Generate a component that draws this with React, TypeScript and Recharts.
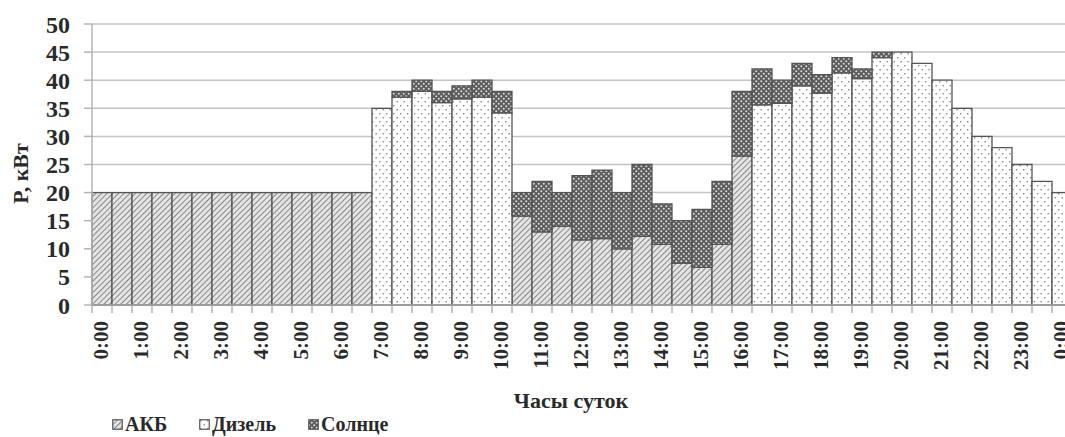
import { Bar, BarChart, CartesianGrid, Label, XAxis, YAxis } from "recharts";

// half-hour slots, 0:00 .. 0:00 next day
const slots = [
  "0:00", "0:30", "1:00", "1:30", "2:00", "2:30", "3:00", "3:30", "4:00", "4:30",
  "5:00", "5:30", "6:00", "6:30", "7:00", "7:30", "8:00", "8:30", "9:00", "9:30",
  "10:00", "10:30", "11:00", "11:30", "12:00", "12:30", "13:00", "13:30", "14:00", "14:30",
  "15:00", "15:30", "16:00", "16:30", "17:00", "17:30", "18:00", "18:30", "19:00", "19:30",
  "20:00", "20:30", "21:00", "21:30", "22:00", "22:30", "23:00", "23:30", "0:00",
];

const akb = [
  20, 20, 20, 20, 20, 20, 20, 20, 20, 20,
  20, 20, 20, 20, 0, 0, 0, 0, 0, 0,
  0, 15.8, 13, 14, 11.6, 11.8, 10, 12.2, 10.8, 7.4,
  6.7, 10.8, 26.5, 0, 0, 0, 0, 0, 0, 0,
  0, 0, 0, 0, 0, 0, 0, 0, 0,
];

const diesel = [
  0, 0, 0, 0, 0, 0, 0, 0, 0, 0,
  0, 0, 0, 0, 35, 37, 38, 36, 36.7, 37,
  34.2, 0, 0, 0, 0, 0, 0, 0, 0, 0,
  0, 0, 0, 35.6, 35.9, 39, 37.7, 41.3, 40.3, 44,
  45, 43, 40, 35, 30, 28, 25, 22, 20,
];

const sun = [
  0, 0, 0, 0, 0, 0, 0, 0, 0, 0,
  0, 0, 0, 0, 0, 1, 2, 2, 2.3, 3,
  3.8, 4.2, 9, 6, 11.4, 12.2, 10, 12.8, 7.2, 7.6,
  10.3, 11.2, 11.5, 6.4, 4.1, 4, 3.3, 2.7, 1.7, 1,
  0, 0, 0, 0, 0, 0, 0, 0, 0,
];

const yTicks = [0, 5, 10, 15, 20, 25, 30, 35, 40, 45, 50];

const seriesNames = ["АКБ", "Дизель", "Солнце"];
const seriesFills = ["url(#pAkb)", "url(#pDiesel)", "url(#pSun)"];

const rows = slots.map((slot, i) => ({ slot, akb: akb[i], diesel: diesel[i], sun: sun[i] }));

const FONT = '"Liberation Serif", "Times New Roman", serif';
const TEXT = "#2a2a2a";
const CHART_W = 1100;
const CHART_H = 437;
const XAXIS_H = 132;
const PLOT_BOTTOM = CHART_H - XAXIS_H;
const HALF_BAND = 10;
const legendLeft = [112, 199, 308];

function TimeTick(props: any) {
  const { x, payload } = props;
  const showLabel = String(payload.value).endsWith(":00");
  const ty = PLOT_BOTTOM + 16;
  return (
    <g>
      <line x1={x - HALF_BAND} y1={PLOT_BOTTOM} x2={x - HALF_BAND} y2={PLOT_BOTTOM + 8} stroke="#a8a8a8" strokeWidth={1.3} />
      {showLabel && (
        <text
          x={x - 1}
          y={ty}
          transform={`rotate(-90, ${x - 1}, ${ty})`}
          textAnchor="end"
          dy="0.35em"
          fontSize={21}
          fontWeight="bold"
          fontFamily={FONT}
          fill={TEXT}
        >
          {payload.value}
        </text>
      )}
    </g>
  );
}

function LegendIcon({ fill }: { fill: string }) {
  return (
    <svg width={11} height={11} style={{ marginRight: 2 }}>
      <rect x={0.75} y={0.75} width={9.5} height={9.5} fill={fill} stroke="#555" strokeWidth={1.2} />
    </svg>
  );
}

export default function App() {
  return (
    <div
      style={{
        position: "fixed",
        left: 0,
        top: 0,
        width: 1065,
        height: 437,
        overflow: "hidden",
        background: "#fff",
      }}
    >
      <BarChart
        width={CHART_W}
        height={CHART_H}
        data={rows}
        margin={{ top: 24, right: 28, bottom: 0, left: 0 }}
        barCategoryGap={0}
        barGap={0}
      >
        <defs>
          <pattern id="pAkb" width="4" height="4" patternUnits="userSpaceOnUse" patternTransform="rotate(45)">
            <rect width="4" height="4" fill="#e4e4e4" />
            <line x1="0" y1="0" x2="0" y2="4" stroke="#707070" strokeWidth="1.6" />
          </pattern>
          <pattern id="pDiesel" width="7" height="8" patternUnits="userSpaceOnUse">
            <rect width="7" height="8" fill="#fff" />
            <rect x="1" y="1" width="1.4" height="1.4" fill="#8a8a8a" />
            <rect x="4.5" y="5" width="1.4" height="1.4" fill="#8a8a8a" />
          </pattern>
          <pattern id="pSun" width="5" height="5" patternUnits="userSpaceOnUse">
            <rect width="5" height="5" fill="#5c5c5c" />
            <circle cx="1.25" cy="1.25" r="1" fill="#dcdcdc" />
            <circle cx="3.75" cy="3.75" r="1" fill="#dcdcdc" />
          </pattern>
        </defs>
        <CartesianGrid vertical={false} stroke="#c4c4c4" strokeWidth={1.5} />
        <XAxis
          dataKey="slot"
          interval={0}
          height={XAXIS_H}
          tickLine={false}
          axisLine={{ stroke: "#a8a8a8", strokeWidth: 1.5 }}
          tick={<TimeTick />}
        >
          <Label
            content={() => (
              <text x={571} y={408} textAnchor="middle" fontSize={22} fontWeight="bold" fontFamily={FONT} fill={TEXT}>
                Часы суток
              </text>
            )}
          />
        </XAxis>
        <YAxis
          type="number"
          domain={[0, 50]}
          ticks={yTicks}
          interval={0}
          width={92}
          tickSize={8}
          tickMargin={14}
          tickLine={{ stroke: "#b4b4b4", strokeWidth: 1.5 }}
          axisLine={{ stroke: "#b4b4b4", strokeWidth: 1.5 }}
          tick={{ fill: TEXT, fontSize: 24, fontWeight: "bold", fontFamily: FONT }}
        >
          <Label
            content={(p: any) => {
              const vb = p.viewBox;
              const cy = vb.y + vb.height / 2 + 9;
              return (
                <text
                  x={20}
                  y={cy}
                  transform={`rotate(-90, 20, ${cy})`}
                  textAnchor="middle"
                  dy="0.35em"
                  fontSize={22}
                  fontWeight="bold"
                  fontFamily={FONT}
                  fill={TEXT}
                >
                  P, кВт
                </text>
              );
            }}
          />
        </YAxis>
        <Bar dataKey="akb" stackId="p" fill="url(#pAkb)" stroke="#555" strokeWidth={1.3} isAnimationActive={false} />
        <Bar dataKey="diesel" stackId="p" fill="url(#pDiesel)" stroke="#555" strokeWidth={1.3} isAnimationActive={false} />
        <Bar dataKey="sun" stackId="p" fill="url(#pSun)" stroke="#555" strokeWidth={1.3} isAnimationActive={false} />
      </BarChart>
      {seriesNames.map((name, i) => (
        <div
          key={name}
          style={{
            position: "absolute",
            left: legendLeft[i],
            top: 414,
            display: "flex",
            alignItems: "center",
            fontFamily: FONT,
            fontSize: 20,
            fontWeight: "bold",
            color: TEXT,
            lineHeight: "21px",
            whiteSpace: "nowrap",
          }}
        >
          <LegendIcon fill={seriesFills[i]} />
          <span>{name}</span>
        </div>
      ))}
    </div>
  );
}
